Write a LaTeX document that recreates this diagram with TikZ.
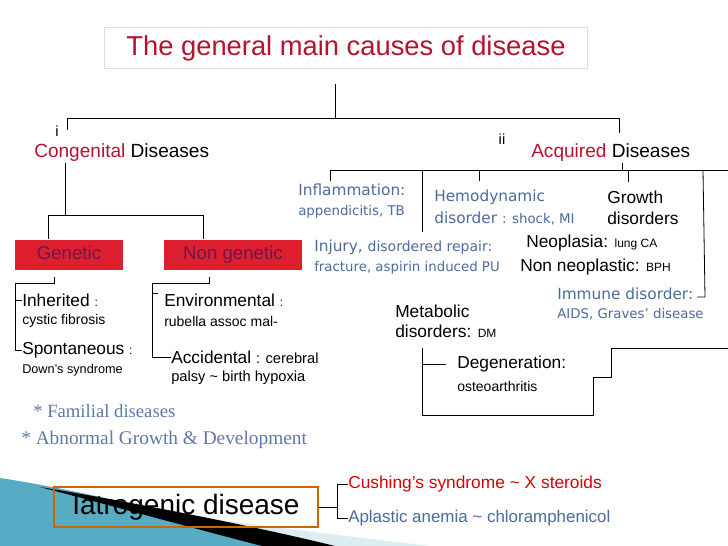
\documentclass[tikz,border=0pt]{standalone}
\usepackage{fontspec}
\setmainfont{Liberation Sans}
\newfontfamily\verd{DejaVu Sans}
\newfontfamily\garam{Liberation Serif}
\usepackage{tikz}
\usetikzlibrary{positioning,calc}

\definecolor{titlered}{HTML}{B5122E}
\definecolor{boxred}{HTML}{DD1F30}
\definecolor{boxtext}{HTML}{6E1848}
\definecolor{slate}{HTML}{4C6A9C}
\definecolor{teal}{HTML}{1F8FAE}

\begin{document}
\begin{tikzpicture}[
  x=0.75pt, y=-0.75pt,
  every node/.style={inner sep=0pt, align=left},
  lbl/.style={anchor=west, font=\fontsize{13}{14}\selectfont},
  small/.style={anchor=west, font=\fontsize{10.5}{12}\selectfont},
  blu/.style={anchor=west, text=slate, font=\verd\fontsize{11.5}{13}\selectfont},
  redbox/.style={fill=boxred, text=boxtext, minimum height=23pt, text height=1.6ex, text depth=.3ex,
    font=\fontsize{14}{16}\selectfont},
  link/.style={draw=black, line width=0.6pt}
]
\useasboundingbox (0,0) rectangle (728,546);
% background swoosh
\fill[teal!75] (0,478) .. controls (80,490) and (180,515) .. (300,546) -- (0,546) -- cycle;
\fill[teal!15] (110,505) .. controls (250,525) and (380,540) .. (430,546) -- (320,546) -- cycle;
\fill[black] (40,487) .. controls (120,500) and (250,525) .. (335,546) -- (262,546) .. controls (200,530) and (120,508) .. (40,487) -- cycle;

% title
\node[draw=gray!25, minimum width=362pt, minimum height=31pt, text=titlered,
  font=\fontsize{20.5}{22}\selectfont] (title) at (346,48) {The general main causes of disease};

% level one
\node[font=\fontsize{11}{12}\selectfont] (i) at (57,131) {i};
\node[lbl, font=\fontsize{14.3}{16}\selectfont] (cong) at (34,153) {\textcolor{titlered}{Congenital} Diseases};
\node[font=\fontsize{11}{12}\selectfont] (ii) at (502,139) {ii};
\node[lbl, font=\fontsize{14.3}{16}\selectfont] (acq) at (531,153) {\textcolor{titlered}{Acquired} Diseases};
\coordinate (top) at (335,84);
\draw[link] (top) -- (335,118) (67,130) -- (67,118) -- (619,118) -- (619,133);

% congenital branch
\node[redbox, minimum width=81pt] (gen) at (69,255) {Genetic};
\node[redbox, minimum width=104pt] (nongen) at (233,255) {Non genetic};
\draw[link] (65,163) -- (65,215);
\draw[link] (gen.north -| 48,0) -- (48,215) -- (203,215) -- (nongen.north -| 203,0);

\node[lbl] (inh) at (22,300) {Inherited \small:};
\node[small] (inh2) at (22,321) {cystic fibrosis};
\node[lbl] (spon) at (22,350) {Spontaneous \small:};
\node[small, font=\fontsize{9.5}{11}\selectfont] (spon2) at (22,370) {Down’s syndrome};
\draw[link] (54,277) -- (54,283) -- (15,283) -- (15,350) -- (spon.west);
\draw[link] (15,300) -- (inh.west);

\node[lbl] (env) at (164,300) {Environmental \small:};
\node[small] (env2) at (164,321) {rubella assoc mal-};
\node[lbl] (acc) at (171,357) {Accidental {\fontsize{11}{13}\selectfont: cerebral}};
\node[lbl, font=\fontsize{11}{13}\selectfont] (acc2) at (171,378) {palsy \textasciitilde{} birth hypoxia};
\draw[link] (209,277) -- (209,283) -- (152,283) -- (152,357) -- (acc.west);
\draw[link] (158,293) -- (152,293);

% acquired branch
\node[blu] (infl) at (298,190) {Inflammation:};
\node[blu, font=\verd\fontsize{10}{12}\selectfont] (infl2) at (298,212) {appendicitis, TB};
\node[blu] (hemo) at (434,197) {Hemodynamic};
\node[blu] (hemo2) at (434,218) {disorder {\fontsize{10}{12}\selectfont: shock, MI}};
\node[lbl] (grow) at (607,197) {Growth};
\node[lbl] (grow2) at (607,218) {disorders};
\node[blu] (inj) at (314,247) {Injury, {\fontsize{10.5}{12}\selectfont disordered repair:}};
\node[blu, font=\verd\fontsize{10}{12}\selectfont] (inj2) at (314,268) {fracture, aspirin induced PU};
\node[lbl] (neo) at (526,243) {Neoplasia: \small lung CA};
\node[lbl] (neo2) at (520,267) {Non neoplastic: \small BPH};
\node[blu] (imm) at (557,294) {Immune disorder:};
\node[blu, font=\verd\fontsize{10}{12}\selectfont] (imm2) at (557,314) {AIDS, Graves’ disease};
\node[lbl] (meta) at (395,311) {Metabolic};
\node[lbl] (meta2) at (395,331) {disorders: \small DM};
\node[lbl] (degen) at (457,364) {Degeneration:};
\node[small] (degen2) at (457,386) {osteoarthritis};

\draw[link] (622,163) -- (622,170);
\draw[link] (330,181) -- (330,170) -- (728,170);
\draw[link] (479,170) -- (479,181) (628,170) -- (628,182) (422,170) -- (422,232);
\draw[link] (703,170) -- (705,297) -- (697,297);
\draw[link] (422,348) -- (422,415) -- (593,415) -- (593,377) -- (611,377) -- (611,348) -- (728,348);
\draw[link] (422,364) -- (446,364);

% notes
\node[anchor=west, text=slate!90, font=\garam\fontsize{14}{15}\selectfont] (fam) at (33,411) {* Familial diseases};
\node[anchor=west, text=slate!90, font=\garam\fontsize{14.5}{15}\selectfont] (abn) at (21,440) {* Abnormal Growth \& Development};

% iatrogenic
\node[draw=orange!80!black, line width=0.8pt, minimum width=198pt, minimum height=30pt,
  font=\fontsize{21}{22}\selectfont] (iat) at (186,507) {Iatrogenic disease};
\node[anchor=west, text=red!85!black, font=\fontsize{13}{14}\selectfont] (cush) at (348,484) {Cushing’s syndrome \textasciitilde{} X steroids};
\node[anchor=west, text=slate, font=\fontsize{12.7}{14}\selectfont] (apl) at (348,518) {Aplastic anemia \textasciitilde{} chloramphenicol};
\draw[link] (iat.east) -- (337,507);
\draw[link] (cush.west) -- (337,484) -- (337,518) -- (apl.west);
\end{tikzpicture}
\end{document}
